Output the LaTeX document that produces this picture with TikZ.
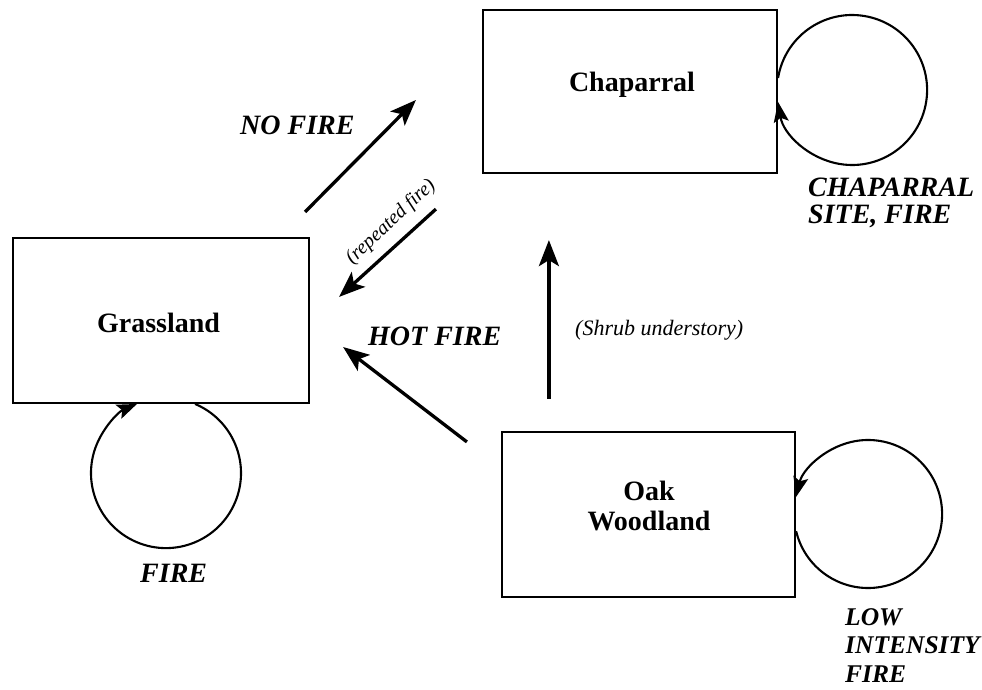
\documentclass[tikz,border=0pt]{standalone}
\usepackage{fontspec}
\setmainfont{Liberation Serif}
\usetikzlibrary{arrows.meta,calc}
\begin{document}
\begin{tikzpicture}[x=1pt,y=-1pt,
  statebox/.style={draw, line width=2.2pt, inner sep=0pt},
  boxlabel/.style={font=\fontsize{28}{30}\selectfont\bfseries, anchor=base, inner sep=0pt, align=center},
  firelabel/.style={font=\fontsize{28}{26.5}\selectfont\bfseries\itshape, anchor=base west, inner sep=0pt, align=left},
  firelabelsm/.style={font=\fontsize{25.5}{28.5}\selectfont\bfseries\itshape, anchor=base west, inner sep=0pt, align=left},
  note/.style={font=\fontsize{22}{24}\selectfont\itshape, inner sep=0pt},
  arr/.style={line width=3.3pt, -{Stealth[length=26pt,width=20pt,inset=6pt]}},
  loopst/.style={line width=2.1pt, -{Stealth[length=20pt,width=15pt,inset=4pt]}}]
\useasboundingbox (0,0) rectangle (982,690);

% state boxes
\node[statebox, minimum width=294pt, minimum height=163pt] (chap) at (630,91.5) {};
\node[statebox, minimum width=296pt, minimum height=165pt] (grass) at (161,320.5) {};
\node[statebox, minimum width=293pt, minimum height=165pt] (oak) at (648.5,514.5) {};

\node[boxlabel] (chaplbl) at (632,92) {Chaparral};
\node[boxlabel] (grasslbl) at (158.5,332) {Grassland};
\node[boxlabel] (oaklbl) at (649,530) {Oak\\Woodland};

% transitions
\draw[arr] ($(grass.north east)+(-5,-25)$) -- ($(chap.west)+(-66,8.5)$);
\draw[arr] ($(chap.south west)+(-46,35)$) -- ($(grass.north east)+(29,60)$);
\draw[arr] ($(oak.north west)+(-34,11)$) -- ($(grass.east)+(33,26.5)$);
\draw[arr] ($(oak.north west)+(48,-32)$) -- ($(chap.south west)+(67,66)$);

% self loops
\coordinate (c1) at ($(chap.east)+(74,-1.5)$);
\coordinate (c2) at ($(grass.south)+(5,69)$);
\coordinate (c3) at ($(oak.east)+(72,-0.5)$);
\draw[loopst] ([shift={(189.2:75)}]c1) arc[start angle=189.2, end angle=530.8, radius=75];
\draw[loopst] ([shift={(-67.2:75)}]c2) arc[start angle=-67.2, end angle=247.2, radius=75];
\draw[loopst] ([shift={(166.6:74)}]c3) arc[start angle=166.6, end angle=-166.6, radius=74];

% labels
\node[firelabel] (nofire) at (240,135) {NO FIRE};
\node[firelabel] (hotfire) at (368,345) {HOT FIRE};
\node[firelabel] (chapfire) at (808,223) {CHAPARRAL\\SITE, FIRE};
\node[firelabel] (grassfire) at (140,582) {FIRE};
\node[firelabelsm] (oakfire) at (845,682) {LOW\\INTENSITY\\FIRE};
\node[note, anchor=base west] (shrub) at (575,335) {(Shrub understory)};
\node[note, font=\fontsize{20}{22}\selectfont\itshape, rotate=43] (rep) at (391,222) {(repeated fire)};
\end{tikzpicture}
\end{document}
